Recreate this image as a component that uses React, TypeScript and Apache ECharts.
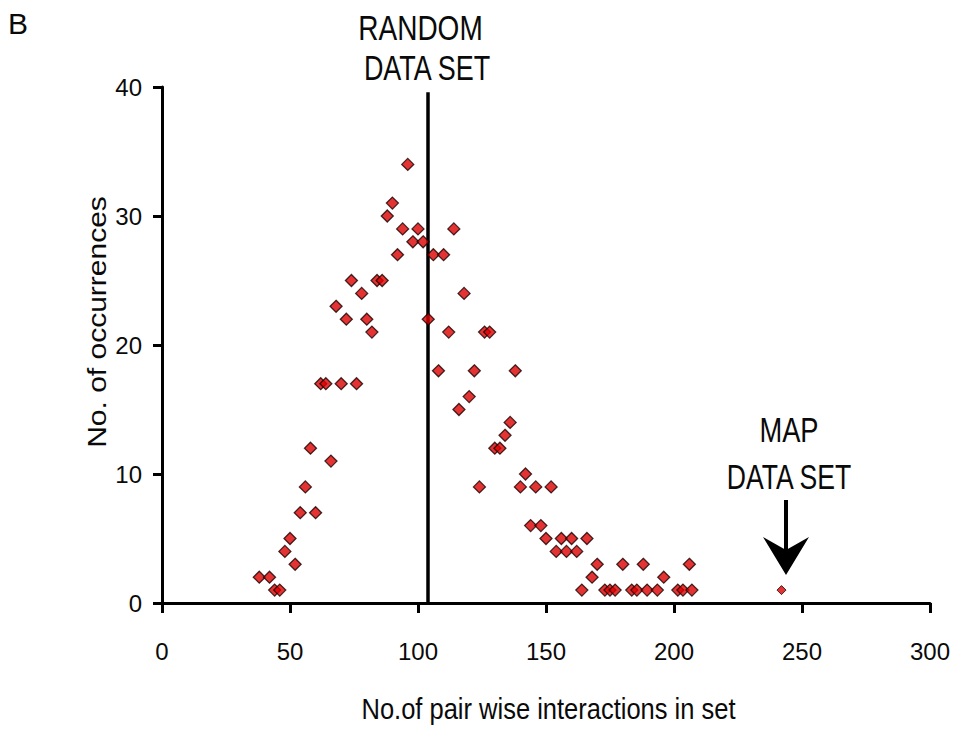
import React, { useEffect, useRef } from "react";
import * as echarts from "echarts";

// Random data set: number of pair-wise interactions (x) vs. number of occurrences (y)
const interactions = [
  38, 42, 44, 46, 48, 50, 52, 54, 56, 58, 60, 62, 64, 66, 68, 70, 72, 74, 76, 78,
  80, 82, 84, 86, 88, 90, 92, 94, 96, 98, 100, 102, 104, 106, 108, 110, 112, 114, 116, 118,
  120, 122, 124, 126, 128, 130, 132, 134, 136, 138, 140, 142, 144, 146, 148, 150, 152, 154, 156, 158,
  160, 162, 164, 166, 168, 170, 173, 175, 177, 180, 183.5, 185.5, 188, 189.5, 193.5, 196, 201.5, 203.5, 206, 207,
];
const occurrences = [
  2, 2, 1, 1, 4, 5, 3, 7, 9, 12, 7, 17, 17, 11, 23, 17, 22, 25, 17, 24,
  22, 21, 25, 25, 30, 31, 27, 29, 34, 28, 29, 28, 22, 27, 18, 27, 21, 29, 15, 24,
  16, 18, 9, 21, 21, 12, 12, 13, 14, 18, 9, 10, 6, 9, 6, 5, 9, 4, 5, 4,
  5, 4, 1, 5, 2, 3, 1, 1, 1, 3, 1, 1, 3, 1, 1, 2, 1, 1, 3, 1,
];
// Map data set
const mapInteractions = [242];
const mapOccurrences = [1];
// Random data set marker line
const randomLineX = 104;
const randomLineTop = 39.6;

const xMin = 0, xMax = 300, xStep = 50;
const yMin = 0, yMax = 40, yStep = 10;

const xTitle = "No.of pair wise interactions in set";
const yTitle = "No. of occurrences";

const FONT = "'Liberation Sans', Arial, Helvetica, sans-serif";

export default function App() {
  const ref = useRef<HTMLDivElement>(null);
  useEffect(() => {
    if (!ref.current) return;
    const chart = echarts.init(ref.current, undefined, { renderer: "svg" });
    const pts = interactions.map((x, i) => [x, occurrences[i]]);
    const mapPts = mapInteractions.map((x, i) => [x, mapOccurrences[i]]);
    const textStyle = (text: string, size: number) => ({
      text,
      fontFamily: FONT,
      fontSize: size,
      fill: "#0a0a0a",
      align: "center",
      verticalAlign: "middle",
    });
    chart.setOption({
      animation: false,
      backgroundColor: "#ffffff",
      grid: { left: 162, right: 18, top: 87, bottom: 127, containLabel: false },
      xAxis: {
        type: "value",
        min: xMin,
        max: xMax,
        interval: xStep,
        axisLine: { show: true, lineStyle: { color: "#000", width: 3 } },
        axisTick: { show: true, inside: false, length: 10, lineStyle: { color: "#000", width: 3 } },
        axisLabel: { margin: 36, fontFamily: FONT, fontSize: 24, color: "#0a0a0a" },
        splitLine: { show: false },
      },
      yAxis: {
        type: "value",
        min: yMin,
        max: yMax,
        interval: yStep,
        axisLine: { show: true, lineStyle: { color: "#000", width: 3 } },
        axisTick: { show: true, inside: false, length: 9, lineStyle: { color: "#000", width: 3 } },
        axisLabel: { margin: 20, fontFamily: FONT, fontSize: 24, color: "#0a0a0a" },
        splitLine: { show: false },
      },
      series: [
        {
          name: "Random data sets",
          type: "scatter",
          symbol: "diamond",
          symbolSize: 12,
          itemStyle: { color: "#dc0000", borderColor: "#1a0000", borderWidth: 1.3 },
          data: pts,
          z: 3,
          markLine: {
            silent: true,
            symbol: "none",
            label: { show: false },
            lineStyle: { color: "#000", width: 3.5, type: "solid" },
            data: [[{ coord: [randomLineX, yMin] }, { coord: [randomLineX, randomLineTop] }]],
            z: 2,
          },
        },
        {
          name: "Map data set",
          type: "scatter",
          symbol: "diamond",
          symbolSize: 9,
          itemStyle: { color: "#dc0000", borderColor: "#1a0000", borderWidth: 1 },
          data: mapPts,
          z: 3,
        },
      ],
      graphic: [
        { type: "text", x: 8, y: 23, style: { ...textStyle("B", 30), align: "left" } },
        { type: "text", x: 420.5, y: 27.5, scaleX: 0.8, style: textStyle("RANDOM", 35) },
        { type: "text", x: 427, y: 68.5, scaleX: 0.77, style: textStyle("DATA SET", 35) },
        { type: "text", x: 789, y: 430.5, scaleX: 0.78, style: textStyle("MAP", 35) },
        { type: "text", x: 789, y: 477.5, scaleX: 0.76, style: textStyle("DATA SET", 35) },
        {
          type: "line",
          shape: { x1: 786, y1: 500, x2: 786, y2: 552 },
          style: { stroke: "#000", lineWidth: 4 },
        },
        {
          type: "polygon",
          shape: { points: [[763, 537], [786, 550], [809, 537], [786, 575]] },
          style: { fill: "#000" },
        },
        { type: "text", x: 548.5, y: 709, scaleX: 0.85, style: textStyle(xTitle, 30) },
        {
          type: "text",
          x: 97,
          y: 322,
          rotation: Math.PI / 2,
          scaleX: 1.2,
          style: textStyle(yTitle, 25),
        },
      ],
    });
    return () => chart.dispose();
  }, []);
  return <div ref={ref} style={{ position: "fixed", left: 0, top: 0, width: 953, height: 730 }} />;
}
